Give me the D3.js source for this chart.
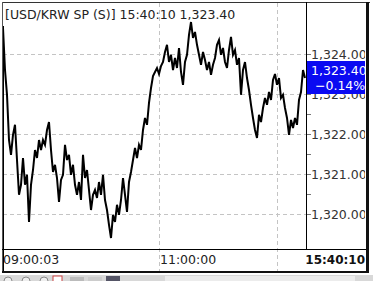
<!DOCTYPE html>
<html>
<head>
<meta charset="utf-8">
<script src="https://cdn.jsdelivr.net/npm/d3@7"></script>
<style>
  body { margin: 0; background: #fff; }
  svg { display: block; font-family: "DejaVu Sans", sans-serif; }
</style>
</head>
<body>
<svg width="373" height="281"></svg>
<script>
// chart values
const title = "[USD/KRW SP (S)] 15:40:10  1,323.40";
const lastPrice = "1,323.40";
const lastChange = "\u22120.14%";
const firstTime = "09:00:03";
const lastTime = "15:40:10";
const xTickIdx = [78, 137];
const xTickLabels = ["11:00:00", ""];
const yTicks = [1320, 1321, 1322, 1323, 1324];
const yMinor = [1320.5, 1321.5, 1322.5, 1323.5];
const lastValue = 1323.40;

const prices = [
  1324.65, 1323.60, 1322.98, 1321.85, 1321.48, 1321.98, 1322.23, 1321.35, 1320.48, 1320.73,
  1321.40, 1320.73, 1320.98, 1319.80, 1320.73, 1321.10, 1321.60, 1321.40, 1321.85, 1321.60,
  1321.85, 1321.73, 1322.10, 1322.30, 1321.60, 1321.05, 1321.23, 1320.90, 1320.30, 1320.85,
  1320.98, 1321.73, 1321.35, 1321.48, 1320.98, 1321.23, 1320.73, 1320.48, 1320.80, 1320.35,
  1321.48, 1320.90, 1321.10, 1320.60, 1320.10, 1320.48, 1320.60, 1320.40, 1320.80, 1320.48,
  1320.98, 1320.35, 1320.10, 1319.73, 1319.40, 1319.98, 1319.80, 1320.23, 1319.98, 1320.35,
  1320.90, 1320.48, 1320.05, 1320.80, 1321.05, 1321.35, 1321.65, 1321.40, 1321.73, 1321.60,
  1322.10, 1322.40, 1322.23, 1322.78, 1323.15, 1323.45, 1323.55, 1323.65, 1323.50, 1323.70,
  1323.80, 1324.05, 1324.23, 1323.80, 1323.98, 1323.60, 1323.90, 1323.65, 1324.15, 1323.55,
  1323.23, 1323.80, 1323.98, 1324.48, 1324.80, 1324.40, 1324.55, 1324.23, 1323.98, 1323.73,
  1324.05, 1323.85, 1323.60, 1323.80, 1323.48, 1323.73, 1323.90, 1324.23, 1324.35, 1323.98,
  1324.15, 1323.80, 1323.65, 1324.10, 1324.43, 1323.98, 1324.10, 1323.73, 1323.90, 1322.98,
  1323.60, 1323.80, 1323.40, 1323.10, 1322.73, 1322.40, 1322.10, 1321.90, 1322.48, 1322.30,
  1322.65, 1322.90, 1322.73, 1323.05, 1322.85, 1323.35, 1323.50, 1323.23, 1323.40, 1322.90,
  1322.98, 1322.65, 1322.40, 1321.98, 1322.35, 1322.15, 1322.40, 1322.23, 1322.85, 1323.05,
  1323.60, 1323.40
];

const svg = d3.select("svg");
const plot = {left: 3, right: 306, top: 3, bottom: 249};

const x = d3.scaleLinear().domain([0, prices.length - 1]).range([3, 305]);
const y = d3.scaleLinear().domain([1320, 1324]).range([214, 54]);
const ly = y(lastValue);

const defs = svg.append("defs");
defs.append("clipPath").attr("id", "axisClip")
  .append("rect").attr("x", 306).attr("y", 0).attr("width", 59).attr("height", 281);
// label hidden behind the last-price box shows only below it
defs.append("clipPath").attr("id", "underBox")
  .append("rect").attr("x", 306).attr("y", ly + 16).attr("width", 59).attr("height", 40);

// horizontal grid
svg.append("g")
  .selectAll("line")
  .data(yTicks)
  .join("line")
  .attr("x1", plot.left).attr("x2", plot.right)
  .attr("y1", d => Math.round(y(d)) + 0.5).attr("y2", d => Math.round(y(d)) + 0.5)
  .attr("stroke", "#c4c4c4").attr("stroke-dasharray", "4,3");

// vertical grid
svg.append("g")
  .selectAll("line")
  .data(xTickIdx)
  .join("line")
  .attr("x1", d => Math.round(x(d)) + 0.5).attr("x2", d => Math.round(x(d)) + 0.5)
  .attr("y1", plot.top).attr("y2", 271)
  .attr("stroke", "#c4c4c4").attr("stroke-dasharray", "4,3");

// price line
svg.append("path")
  .datum(prices)
  .attr("fill", "none")
  .attr("stroke", "#000")
  .attr("stroke-width", 2)
  .attr("stroke-linejoin", "miter")
  .attr("d", d3.line().x((d, i) => x(i)).y(d => y(d)));

// title
svg.append("text")
  .attr("x", 5).attr("y", 19)
  .attr("font-size", 12.5).attr("fill", "#222")
  .text(title);

// y axis on right
const yAxis = svg.append("g").attr("clip-path", "url(#axisClip)");
yAxis.selectAll(".tk")
  .data(yTicks.concat(yMinor))
  .join("line")
  .attr("x1", 306).attr("x2", 311)
  .attr("y1", d => Math.round(y(d)) + 0.5).attr("y2", d => Math.round(y(d)) + 0.5)
  .attr("stroke", "#777");
yAxis.selectAll("text")
  .data(yTicks)
  .join("text")
  .attr("x", 311).attr("y", d => y(d) + 5)
  .attr("font-size", 12.5).attr("fill", "#333")
  .attr("clip-path", d => Math.abs(y(d) - ly) < 20 ? "url(#underBox)" : null)
  .text(d => d3.format(",.2f")(d));

// last price box
yAxis.append("rect")
  .attr("x", 307).attr("y", ly - 17).attr("width", 62).attr("height", 33)
  .attr("fill", "#0a0af2");
yAxis.append("text")
  .attr("x", 311).attr("y", ly - 3)
  .attr("font-size", 12.5).attr("fill", "#fff")
  .text(lastPrice);
yAxis.append("text")
  .attr("x", 315).attr("y", ly + 12)
  .attr("font-size", 12.5).attr("fill", "#fff")
  .text(lastChange);

// x labels
svg.append("text")
  .attr("x", 3).attr("y", 264)
  .attr("font-size", 12.5).attr("fill", "#222")
  .text(firstTime);
svg.append("g")
  .selectAll("text")
  .data(xTickIdx)
  .join("text")
  .attr("x", d => Math.round(x(d)) + 1).attr("y", 264)
  .attr("font-size", 12.5).attr("fill", "#222")
  .text((d, i) => xTickLabels[i]);
svg.append("text")
  .attr("x", 365).attr("y", 264)
  .attr("text-anchor", "end")
  .attr("font-size", 12).attr("font-weight", "bold").attr("fill", "#111")
  .text(lastTime);

// frame
svg.append("line").attr("x1", 2).attr("x2", 370).attr("y1", 2.5).attr("y2", 2.5).attr("stroke", "#333");
svg.append("line").attr("x1", 2.5).attr("x2", 2.5).attr("y1", 2).attr("y2", 273).attr("stroke", "#555");
svg.append("line").attr("x1", 3.5).attr("x2", 3.5).attr("y1", 26).attr("y2", 273).attr("stroke", "#000");
svg.append("line").attr("x1", 306.5).attr("x2", 306.5).attr("y1", 2).attr("y2", 249).attr("stroke", "#000");
svg.append("line").attr("x1", 2).attr("x2", 368).attr("y1", 249.5).attr("y2", 249.5).attr("stroke", "#000");
svg.append("rect").attr("x", 366).attr("y", 2).attr("width", 3).attr("height", 271).attr("fill", "#111");
svg.append("rect").attr("x", 2).attr("y", 271).attr("width", 367).attr("height", 2).attr("fill", "#111");

// toolbar strip
svg.append("rect").attr("x", 0).attr("y", 275).attr("width", 373).attr("height", 6).attr("fill", "#d8d8d8");
svg.append("rect").attr("x", 165).attr("y", 276).attr("width", 190).attr("height", 5).attr("fill", "#ececec");
const btns = [4, 22, 40];
svg.append("g").selectAll("circle").data(btns).join("circle")
  .attr("cx", d => d + 4).attr("cy", 281).attr("r", 4)
  .attr("fill", "#eee").attr("stroke", "#888");
svg.append("rect").attr("x", 53).attr("y", 276).attr("width", 9).attr("height", 6).attr("fill", "#fff").attr("stroke", "#c44");
svg.append("rect").attr("x", 70).attr("y", 277).attr("width", 14).attr("height", 4).attr("fill", "#bbb");
svg.append("rect").attr("x", 88).attr("y", 277).attr("width", 14).attr("height", 4).attr("fill", "#ccc");
svg.append("rect").attr("x", 106).attr("y", 276).attr("width", 14).attr("height", 5).attr("fill", "#556");
</script>
</body>
</html>
